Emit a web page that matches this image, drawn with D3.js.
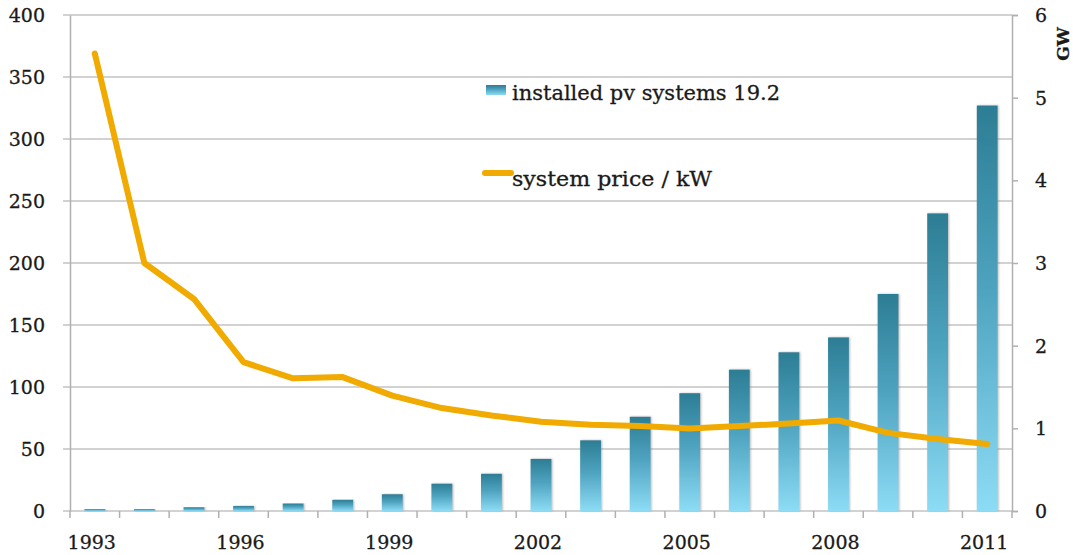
<!DOCTYPE html>
<html>
<head>
<meta charset="utf-8">
<script src="https://d3js.org/d3.v7.min.js"></script>
<style>
  body { margin: 0; background: white; }
  text { font-family: "DejaVu Serif", serif; fill: #1a1a1a; stroke: #1a1a1a; stroke-width: 0.3px; }
</style>
</head>
<body>
<svg id="chart"></svg>
<script>
var width = 1077, height = 555;

// data
var years = [1993,1994,1995,1996,1997,1998,1999,2000,2001,2002,2003,2004,2005,2006,2007,2008,2009,2010,2011];
// installed pv systems, on the left scale (400 = 6 GW)
var installed = [1.5,1.5,3,4,6,9,13.5,22,30,42,57,76,95,114,128,140,175,240,327];
// system price / kW
var price = [369,200,171,120,107,108,93,83,77,72,69.5,68.5,66.5,68.5,70.5,73,63,58,54];
var xLabels = [1993,1996,1999,2002,2005,2008,2011];
var leftTicks = [0,50,100,150,200,250,300,350,400];
var rightTicks = [0,1,2,3,4,5,6];

var margin = {left: 70, right: 65, top: 15, bottom: 44};
var x0 = margin.left, x1 = width - margin.right;
var yTop = margin.top, yBot = height - margin.bottom;

var svg = d3.select("#chart").attr("width", width).attr("height", height);

var defs = svg.append("defs");
var grad = defs.append("linearGradient").attr("id", "barGrad")
  .attr("x1", 0).attr("y1", 0).attr("x2", 0).attr("y2", 1);
grad.append("stop").attr("offset", "0%").attr("stop-color", "#2c7d94");
grad.append("stop").attr("offset", "45%").attr("stop-color", "#4ea3bf");
grad.append("stop").attr("offset", "100%").attr("stop-color", "#8ddcf6");
var shadow = defs.append("filter").attr("id", "shadow")
  .attr("x", "-30%").attr("y", "-5%").attr("width", "160%").attr("height", "110%");
shadow.append("feDropShadow").attr("dx", 1).attr("dy", 0).attr("stdDeviation", 1)
  .attr("flood-color", "#888").attr("flood-opacity", 0.6);

var x = d3.scaleBand().domain(years).range([x0, x1]).paddingInner(0.58).paddingOuter(0.29);
var xc = d3.scaleBand().domain(years).range([x0, x1]);
var y = d3.scaleLinear().domain([0, 400]).range([yBot, yTop]);
var yR = d3.scaleLinear().domain([0, 6]).range([yBot, yTop]);

// gridlines
svg.append("g").selectAll("line").data(leftTicks).enter().append("line")
  .attr("x1", x0 - 7).attr("x2", x1)
  .attr("y1", function(d) { return y(d); }).attr("y2", function(d) { return y(d); })
  .attr("stroke", "#c3c3c3").attr("stroke-width", 1.5);

// left axis
var leftAxis = svg.append("g").attr("transform", "translate(" + x0 + ",0)")
  .call(d3.axisLeft(y).tickValues(leftTicks).tickSize(0).tickPadding(25));
leftAxis.select(".domain").attr("stroke", "#b0b0b0").attr("stroke-width", 1.5);
leftAxis.selectAll("text").style("font-size", "19px").style("fill", "#1a1a1a").attr("dy", "0.35em");

// right axis
var rightAxis = svg.append("g").attr("transform", "translate(" + x1 + ",0)")
  .call(d3.axisRight(yR).tickValues(rightTicks).tickFormat(d3.format("d")).tickSize(6).tickPadding(17));
rightAxis.select(".domain").attr("stroke", "#b0b0b0").attr("stroke-width", 1.5);
rightAxis.selectAll("line").attr("stroke", "#b0b0b0").attr("stroke-width", 1.5);
rightAxis.selectAll("text").style("font-size", "19px").style("fill", "#1a1a1a").attr("dy", "0.35em");

svg.append("text").attr("transform", "translate(1069,44) rotate(-90)")
  .attr("text-anchor", "middle").style("font-size", "17px").style("font-weight", "bold")
  .text("GW");

// bottom axis: ticks at category boundaries
var bounds = years.map(function(d) { return xc(d); }).concat([x1]);
svg.append("g").selectAll("line").data(bounds).enter().append("line")
  .attr("x1", function(d) { return d; }).attr("x2", function(d) { return d; })
  .attr("y1", yBot).attr("y2", yBot + 7)
  .attr("stroke", "#b0b0b0").attr("stroke-width", 1.5);
svg.append("g").selectAll("text").data(xLabels).enter().append("text")
  .attr("x", function(d) { return xc(d) + xc.bandwidth() / 2 - 3; })
  .attr("y", 549).attr("text-anchor", "middle").style("font-size", "19px")
  .text(function(d) { return d; });

// bars
svg.append("g").selectAll("rect").data(years).enter().append("rect")
  .attr("x", function(d) { return x(d); })
  .attr("width", x.bandwidth())
  .attr("y", function(d, i) { return y(installed[i]); })
  .attr("height", function(d, i) { return yBot - y(installed[i]); })
  .attr("fill", "url(#barGrad)")
  .attr("filter", "url(#shadow)");

// price line
var line = d3.line()
  .x(function(d, i) { return xc(years[i]) + xc.bandwidth() / 2; })
  .y(function(d) { return y(d); });
svg.append("path").datum(price).attr("d", line)
  .attr("fill", "none").attr("stroke", "#f0aa00").attr("stroke-width", 6)
  .attr("stroke-linejoin", "round").attr("stroke-linecap", "round");

// legend
var legend = svg.append("g");
legend.append("rect").attr("x", 486).attr("y", 85).attr("width", 20).attr("height", 10)
  .attr("fill", "url(#barGrad)");
legend.append("text").attr("x", 512).attr("y", 100).style("font-size", "21px")
  .attr("textLength", 268).attr("lengthAdjust", "spacingAndGlyphs")
  .text("installed pv systems 19.2");
legend.append("line").attr("x1", 485).attr("x2", 511).attr("y1", 173).attr("y2", 173)
  .attr("stroke", "#f0aa00").attr("stroke-width", 6).attr("stroke-linecap", "round");
legend.append("text").attr("x", 512).attr("y", 186).style("font-size", "21px")
  .attr("textLength", 200).attr("lengthAdjust", "spacingAndGlyphs")
  .text("system price / kW");
</script>
</body>
</html>
